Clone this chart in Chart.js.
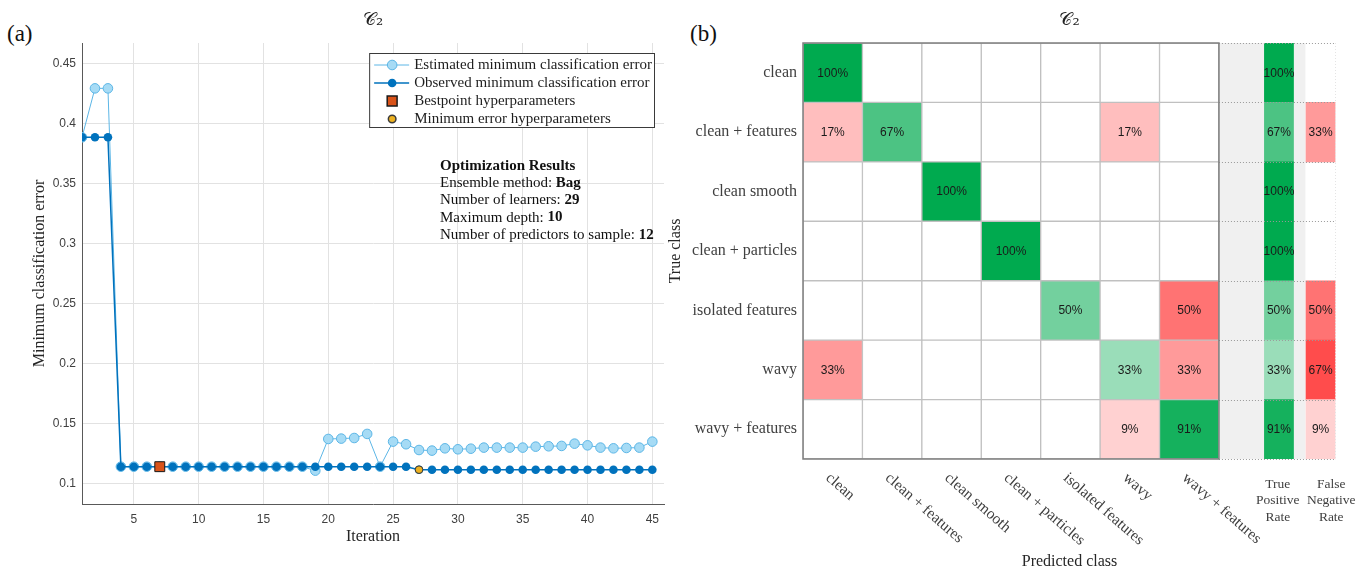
<!DOCTYPE html>
<html>
<head>
<meta charset="utf-8">
<script src="https://cdn.jsdelivr.net/npm/chart.js@4.4.1/dist/chart.umd.min.js"></script>
<style>
  html, body { margin: 0; padding: 0; background: #ffffff; }
  body { width: 1370px; height: 571px; position: relative; overflow: hidden; }
  canvas { position: absolute; top: 0; }
  #cvA { left: 0; }
  #cvB { left: 662px; }
  .panel-tag { position: absolute; font-family: 'Liberation Serif', serif; font-size: 23px; line-height: 1; color: #111; }
</style>
</head>
<body>
<div class="panel-tag" style="left:7px;top:22px">(a)</div>
<div class="panel-tag" style="left:690px;top:22px">(b)</div>
<canvas id="cvA" width="672" height="571"></canvas>
<canvas id="cvB" width="708" height="571"></canvas>
<script>
// ---------- Panel (a): optimisation trace ----------
const iterations = [1, 2, 3, 4, 5, 6, 7, 8, 9, 10, 11, 12, 13, 14, 15, 16, 17, 18, 19, 20,
  21, 22, 23, 24, 25, 26, 27, 28, 29, 30, 31, 32, 33, 34, 35, 36, 37, 38, 39, 40,
  41, 42, 43, 44, 45];
const observedError = [0.3889, 0.3889, 0.3889,
  0.1144, 0.1144, 0.1144, 0.1144, 0.1144, 0.1144, 0.1144, 0.1144, 0.1144, 0.1144,
  0.1144, 0.1144, 0.1144, 0.1144, 0.1144, 0.1144, 0.1144, 0.1144, 0.1144, 0.1144,
  0.1144, 0.1144, 0.1144,
  0.1119, 0.1119, 0.1119, 0.1119, 0.1119, 0.1119, 0.1119, 0.1119, 0.1119, 0.1119,
  0.1119, 0.1119, 0.1119, 0.1119, 0.1119, 0.1119, 0.1119, 0.1119, 0.1119];
const estimatedError = [0.3889, 0.4297, 0.4297,
  0.1144, 0.1144, 0.1144, 0.1144, 0.1144, 0.1144, 0.1144, 0.1144, 0.1144, 0.1144,
  0.1144, 0.1144, 0.1144, 0.1144, 0.1144,
  0.1111, 0.1375, 0.1378, 0.1383, 0.1417, 0.1144, 0.1353, 0.1331, 0.1283, 0.1278,
  0.1297, 0.1289, 0.1294, 0.1303, 0.1303, 0.1303, 0.1303, 0.1311, 0.1314, 0.1317,
  0.1336, 0.1322, 0.1303, 0.1297, 0.1300, 0.1303, 0.1353];
const bestpointIteration = [7];
const bestpointError = [0.1144];
const minErrorIteration = [27];
const minErrorValue = [0.1119];
const xTickValues = [5, 10, 15, 20, 25, 30, 35, 40, 45];
const yTickValues = [0.1, 0.15, 0.2, 0.25, 0.3, 0.35, 0.4, 0.45];
const seriesNames = [
  'Estimated minimum classification error',
  'Observed minimum classification error',
  'Bestpoint hyperparameters',
  'Minimum error hyperparameters'
];
const resultTitle = 'Optimization Results';
const resultFields = ['Ensemble method: ', 'Number of learners: ', 'Maximum depth: ', 'Number of predictors to sample: '];
const resultValues = ['Bag', '29', '10', '12'];
const panelTitle = '\u{1D49E}\u2082';

// ---------- Panel (b): confusion matrix (row-normalised, %) ----------
const classNames = ['clean', 'clean + features', 'clean smooth', 'clean + particles',
  'isolated features', 'wavy', 'wavy + features'];
const rowClean            = [100, 0, 0, 0, 0, 0, 0];
const rowCleanFeatures    = [17, 67, 0, 0, 0, 17, 0];
const rowCleanSmooth      = [0, 0, 100, 0, 0, 0, 0];
const rowCleanParticles   = [0, 0, 0, 100, 0, 0, 0];
const rowIsolatedFeatures = [0, 0, 0, 0, 50, 0, 50];
const rowWavy             = [33, 0, 0, 0, 0, 33, 33];
const rowWavyFeatures     = [0, 0, 0, 0, 0, 9, 91];
const truePositiveRate  = [100, 67, 100, 100, 50, 33, 91];
const falseNegativeRate = [0, 33, 0, 0, 50, 67, 9];
const summaryHeaders = [['True', 'Positive', 'Rate'], ['False', 'Negative', 'Rate']];

const confusionRows = [rowClean, rowCleanFeatures, rowCleanSmooth, rowCleanParticles,
  rowIsolatedFeatures, rowWavy, rowWavyFeatures];

// ---------- shared styling ----------
const SERIF = "'Liberation Serif', 'Times New Roman', serif";
const SANS = "'Liberation Sans', Arial, sans-serif";
const TITLE_FONT = { family: "'DejaVu Serif', 'DejaVu Sans', serif", size: 18, weight: 'normal' };

const GREEN = [0, 170, 79];
const RED = [255, 0, 0];
function shade(base, pct) {
  if (!pct) return 'rgba(255,255,255,0)';
  const a = 0.1 + 0.9 * pct / 100;
  const c = base.map(b => Math.round(255 + (b - 255) * a));
  return 'rgb(' + c.join(',') + ')';
}

// ---------- panel (a) decorations: boxed legend + results text ----------
const traceDecor = {
  id: 'traceDecor',
  afterDraw(chart) {
    const { ctx, chartArea } = chart;
    const byLabel = {};
    chart.data.datasets.forEach(ds => { byLabel[ds.label] = ds; });

    // legend box in the upper-right corner of the plot
    ctx.save();
    ctx.font = '15px ' + SERIF;
    const textW = Math.max(...seriesNames.map(s => ctx.measureText(s).width));
    const boxW = 45 + textW + 2;
    const boxH = 74;
    const left = chartArea.right - 10 - boxW;
    const top = chartArea.top + 10;
    ctx.fillStyle = '#ffffff';
    ctx.fillRect(left, top, boxW, boxH);
    ctx.strokeStyle = '#3a3a3a';
    ctx.lineWidth = 1;
    ctx.strokeRect(left + 0.5, top + 0.5, boxW, boxH);

    seriesNames.forEach((name, i) => {
      const ds = byLabel[name];
      const y = top + 12 + i * 18;
      const mx = left + 23;
      if (ds.showLine !== false) {
        ctx.strokeStyle = ds.borderColor;
        ctx.lineWidth = ds.borderWidth;
        ctx.beginPath();
        ctx.moveTo(left + 5, y);
        ctx.lineTo(left + 40, y);
        ctx.stroke();
      }
      ctx.fillStyle = ds.pointBackgroundColor;
      ctx.strokeStyle = ds.pointBorderColor || ds.pointBackgroundColor;
      Chart.helpers.drawPoint(ctx, {
        pointStyle: ds.pointStyle || 'circle',
        radius: ds.pointRadius,
        borderWidth: ds.pointBorderWidth || 0,
        rotation: 0
      }, mx, y);
      ctx.fillStyle = '#1e1e1e';
      ctx.textAlign = 'left';
      ctx.textBaseline = 'middle';
      ctx.fillText(name, left + 45, y + 0.5);
    });

    // optimisation summary text
    const tx = chartArea.left + 358;
    let ty = chartArea.top + 123;
    const lh = 17.2;
    ctx.fillStyle = '#111111';
    ctx.font = 'bold 15px ' + SERIF;
    ctx.fillText(resultTitle, tx, ty);
    resultFields.forEach((field, i) => {
      ty += lh;
      ctx.font = '15px ' + SERIF;
      ctx.fillText(field, tx, ty);
      const w = ctx.measureText(field).width;
      ctx.font = 'bold 15px ' + SERIF;
      ctx.fillText(resultValues[i], tx + w, ty);
    });
    ctx.restore();
  }
};

const toPoints = (xs, ys) => xs.map((x, i) => ({ x, y: ys[i] }));

new Chart(document.getElementById('cvA'), {
  type: 'line',
  data: {
    datasets: [
      {
        label: seriesNames[2],
        data: toPoints(bestpointIteration, bestpointError),
        showLine: false,
        pointStyle: 'rect',
        pointRadius: 7,
        pointBackgroundColor: '#D95319',
        pointBorderColor: '#1a1a1a',
        pointBorderWidth: 1,
        order: 0
      },
      {
        label: seriesNames[3],
        data: toPoints(minErrorIteration, minErrorValue),
        showLine: false,
        pointStyle: 'circle',
        pointRadius: 3.8,
        pointBackgroundColor: '#EDB120',
        pointBorderColor: '#3a3a3a',
        pointBorderWidth: 1,
        order: 1
      },
      {
        label: seriesNames[1],
        data: toPoints(iterations, observedError),
        borderColor: '#0072BD',
        borderWidth: 1.5,
        pointStyle: 'circle',
        pointRadius: 4.3,
        pointBackgroundColor: '#0072BD',
        pointBorderColor: '#0072BD',
        pointBorderWidth: 0,
        tension: 0,
        order: 2
      },
      {
        label: seriesNames[0],
        data: toPoints(iterations, estimatedError),
        borderColor: '#5cb6e6',
        borderWidth: 1,
        pointStyle: 'circle',
        pointRadius: 4.8,
        pointBackgroundColor: '#a6dbf5',
        pointBorderColor: '#5cb6e6',
        pointBorderWidth: 1,
        tension: 0,
        order: 3
      }
    ]
  },
  options: {
    responsive: false,
    animation: false,
    devicePixelRatio: 1,
    events: [],
    layout: { padding: { left: 0, right: 5, top: 0, bottom: 0 } },
    plugins: {
      legend: { display: false },
      tooltip: { enabled: false },
      title: {
        display: true, text: panelTitle, fullSize: false,
        font: TITLE_FONT, color: '#222222', padding: { top: 10, bottom: 11.4 }
      }
    },
    scales: {
      x: {
        type: 'linear', min: 1, max: 45.9,
        afterBuildTicks: s => { s.ticks = xTickValues.map(v => ({ value: v })); },
        afterFit: s => { s.height = 67; },
        grid: { color: '#e2e2e2', drawTicks: false },
        border: { color: '#595959', width: 1 },
        ticks: {
          padding: 8, maxRotation: 0, autoSkip: false, color: '#404040',
          font: { family: SANS, size: 12 }, callback: v => String(v)
        },
        title: {
          display: true, text: 'Iteration', color: '#262626',
          font: { family: SERIF, size: 16 }, padding: { top: 0, bottom: 24.4 }
        }
      },
      y: {
        type: 'linear', min: 0.0833, max: 0.4675,
        afterBuildTicks: s => { s.ticks = yTickValues.map(v => ({ value: v })); },
        afterFit: s => { s.width = 82; },
        grid: { color: '#e2e2e2', drawTicks: false },
        border: { color: '#595959', width: 1 },
        ticks: {
          padding: 6, autoSkip: false, color: '#404040',
          font: { family: SANS, size: 12 }, callback: v => String(+v.toFixed(4))
        },
        title: {
          display: true, text: 'Minimum classification error', color: '#262626',
          font: { family: SERIF, size: 16 }, padding: { top: 30.4, bottom: 0 }
        }
      }
    }
  },
  plugins: [traceDecor]
});

// ---------- panel (b) ----------
// summary-column geometry, in matrix-cell units along x
const SUMMARY = { bgStart: 6.5, bgEnd: 7.95, tpr: [7.265, 7.755], fnr: [7.965, 8.455], right: 8.47,
  tprLabelX: 7.49, fnrLabelX: 8.39 };

const cellData = [];
confusionRows.forEach((row, r) => row.forEach((v, c) => {
  cellData.push({ x: [c - 0.5, c + 0.5], y: r, col: c, v, diag: r === c });
}));
const summaryBg = classNames.map((_, r) => ({ x: [SUMMARY.bgStart, SUMMARY.bgEnd], y: r }));
const tprData = truePositiveRate.map((v, r) => ({ x: SUMMARY.tpr.slice(), y: r, v }));
const fnrData = falseNegativeRate.map((v, r) => ({ x: SUMMARY.fnr.slice(), y: r, v }));

const matrixDecor = {
  id: 'matrixDecor',
  afterDraw(chart) {
    const { ctx, chartArea, scales } = chart;
    const xs = scales.x, ys = scales.y;
    const n = classNames.length;
    ctx.save();

    // dotted row separators in the summary columns
    ctx.strokeStyle = '#9a9a9a';
    ctx.lineWidth = 1;
    ctx.setLineDash([1, 2]);
    const sx0 = xs.getPixelForValue(SUMMARY.bgStart);
    const sx1 = xs.getPixelForValue(SUMMARY.right);
    for (let k = 0; k <= n; k++) {
      const y = Math.round(ys.getPixelForValue(k - 0.5)) + 0.5;
      ctx.beginPath(); ctx.moveTo(sx0, y); ctx.lineTo(sx1, y); ctx.stroke();
    }
    ctx.strokeStyle = '#e4e4e4';
    ctx.beginPath();
    ctx.moveTo(Math.round(sx1) - 0.5, ys.getPixelForValue(-0.5));
    ctx.lineTo(Math.round(sx1) - 0.5, ys.getPixelForValue(n - 0.5));
    ctx.stroke();
    ctx.setLineDash([]);

    // outer frame of the matrix
    const mx0 = xs.getPixelForValue(-0.5), mx1 = xs.getPixelForValue(n - 0.5);
    const my0 = ys.getPixelForValue(-0.5), my1 = ys.getPixelForValue(n - 0.5);
    ctx.strokeStyle = '#7d7d7d';
    ctx.lineWidth = 1.5;
    ctx.strokeRect(mx0, my0, mx1 - mx0, my1 - my0);

    // cell values
    ctx.font = '12px ' + SANS;
    ctx.fillStyle = '#1a1a1a';
    ctx.textAlign = 'center';
    ctx.textBaseline = 'middle';
    cellData.forEach(d => {
      if (d.v > 0) ctx.fillText(d.v + '%', xs.getPixelForValue(d.col), ys.getPixelForValue(d.y) + 0.5);
    });
    [tprData, fnrData].forEach(set => set.forEach(d => {
      if (d.v > 0) ctx.fillText(d.v + '%', xs.getPixelForValue((d.x[0] + d.x[1]) / 2), ys.getPixelForValue(d.y) + 0.5);
    }));

    // predicted-class labels, slanted downwards
    ctx.font = '15.5px ' + SERIF;
    ctx.fillStyle = '#404040';
    ctx.textAlign = 'left';
    ctx.textBaseline = 'middle';
    const tilt = 41 * Math.PI / 180;
    classNames.forEach((name, c) => {
      ctx.save();
      ctx.translate(xs.getPixelForValue(c) - 5, chartArea.bottom + 17);
      ctx.rotate(tilt);
      ctx.fillText(name, 0, 0);
      ctx.restore();
    });

    // summary column headers
    ctx.font = '13.5px ' + SERIF;
    ctx.textAlign = 'center';
    [SUMMARY.tprLabelX, SUMMARY.fnrLabelX].forEach((xv, j) => {
      summaryHeaders[j].forEach((line, k) => {
        ctx.fillText(line, xs.getPixelForValue(xv), chartArea.bottom + 25 + k * 16.5);
      });
    });
    ctx.restore();
  }
};

new Chart(document.getElementById('cvB'), {
  type: 'bar',
  data: {
    datasets: [
      {
        label: 'cells', data: cellData,
        backgroundColor: ctx => {
          const d = ctx.raw;
          return d && d.v ? shade(d.diag ? GREEN : RED, d.v) : '#ffffff';
        },
        borderColor: '#c0c0c0', borderWidth: 1, order: 0
      },
      { label: 'summary', data: summaryBg, backgroundColor: '#f0f0f0', borderWidth: 0, order: 3 },
      {
        label: 'True Positive Rate', data: tprData,
        backgroundColor: ctx => shade(GREEN, ctx.raw ? ctx.raw.v : 0), borderWidth: 0, order: 1
      },
      {
        label: 'False Negative Rate', data: fnrData,
        backgroundColor: ctx => shade(RED, ctx.raw ? ctx.raw.v : 0), borderWidth: 0, order: 2
      }
    ]
  },
  options: {
    indexAxis: 'y',
    responsive: false,
    animation: false,
    devicePixelRatio: 1,
    events: [],
    layout: { padding: { left: 0, right: 34, top: 0, bottom: 0 } },
    datasets: { bar: { grouped: false, categoryPercentage: 1, barPercentage: 1, borderSkipped: false } },
    plugins: {
      legend: { display: false },
      tooltip: { enabled: false },
      title: {
        display: true, text: panelTitle, fullSize: false,
        font: TITLE_FONT, color: '#222222', padding: { top: 10, bottom: 11.4 }
      }
    },
    scales: {
      x: {
        type: 'linear', min: -0.5, max: SUMMARY.right, offset: false,
        afterFit: s => { s.height = 112; },
        grid: { display: false, drawTicks: false },
        border: { display: false },
        ticks: { display: false },
        title: {
          display: true, text: 'Predicted class', color: '#262626',
          font: { family: SERIF, size: 16 }, padding: { top: 0, bottom: 0 }
        }
      },
      y: {
        type: 'linear', min: -0.5, max: classNames.length - 0.5, reverse: true, offset: false,
        afterBuildTicks: s => { s.ticks = classNames.map((_, i) => ({ value: i })); },
        afterFit: s => { s.width = 141; },
        grid: { display: false, drawTicks: false, offset: false },
        border: { display: false },
        ticks: {
          padding: 6, autoSkip: false, color: '#404040',
          font: { family: SERIF, size: 16 }, callback: v => classNames[v]
        },
        title: {
          display: true, text: 'True class', color: '#262626',
          font: { family: SERIF, size: 16 }, padding: { top: 4.4, bottom: 0 }
        }
      }
    }
  },
  plugins: [matrixDecor]
});
</script>
</body>
</html>
